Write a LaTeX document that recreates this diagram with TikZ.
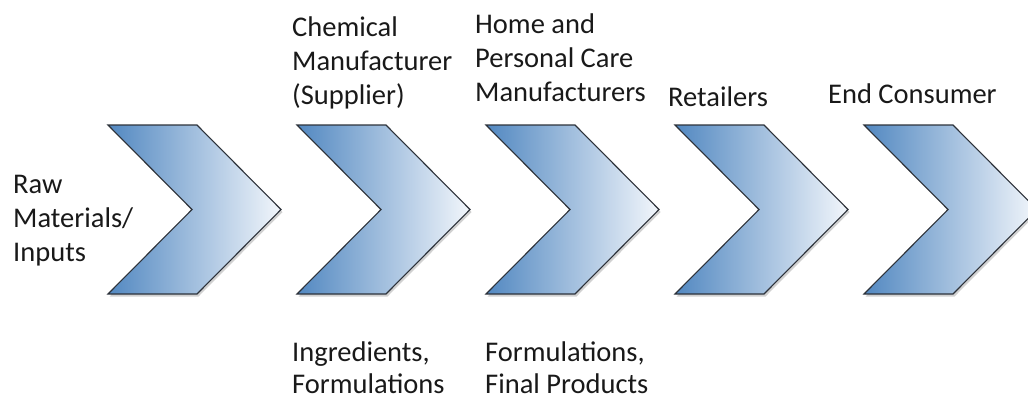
\documentclass[tikz,border=0pt]{standalone}
\usepackage{fontspec}
\setmainfont{Carlito}
\begin{document}
\begin{tikzpicture}[x=1pt,y=-1pt,
  chevronbody/.style={draw={rgb,255:red,45;green,50;blue,58},line width=1.1pt,line join=miter,
    left color={rgb,255:red,82;green,136;blue,193},right color={rgb,255:red,242;green,246;blue,251}},
  chevronshade/.style={fill=black,opacity=0.18},
  label/.style={anchor=north west,inner sep=0pt,align=left,text={rgb,255:red,25;green,25;blue,25},
    font=\fontsize{28.5}{34}\selectfont},
  lowlabel/.style={label,font=\fontsize{28.5}{32.5}\selectfont}]
  \useasboundingbox (0,0) rectangle (1028,400);
  \clip (0,0) rectangle (1028,400);
  % five chevrons, 189 units apart
  \foreach \L in {108,297,486,675,864}{
    \fill[chevronshade] (\L+1.5,127.5) -- ++(89,0) -- ++(84,84.5) -- ++(-84,84.5) -- ++(-89,0) -- ++(84,-84.5) -- cycle;
    \path[chevronbody] (\L,125) -- ++(89,0) -- ++(84,84.5) -- ++(-84,84.5) -- ++(-89,0) -- ++(84,-84.5) -- cycle;
  }
  % stage labels (strut height 0.7*34 above the first baseline)
  \node[label] (raw)    at (13,193-23.8)  {\strut Raw\\Materials/\\Inputs};
  \node[label] (chem)   at (292,36-23.8)  {\strut Chemical\\Manufacturer\\(Supplier)};
  \node[label] (hpc)    at (475,33-23.8)  {\strut Home and\\Personal Care\\Manufacturers};
  \node[label] (retail) at (668,106-23.8) {\strut Retailers};
  \node[label] (endc)   at (828,103-23.8) {\strut End Consumer};
  % products passed along the chain
  \node[lowlabel] (ingr)  at (292,361-22.75) {\strut Ingredients,\\Formulations};
  \node[lowlabel] (final) at (485,361-22.75) {\strut Formulations,\\Final Products};
\end{tikzpicture}
\end{document}
